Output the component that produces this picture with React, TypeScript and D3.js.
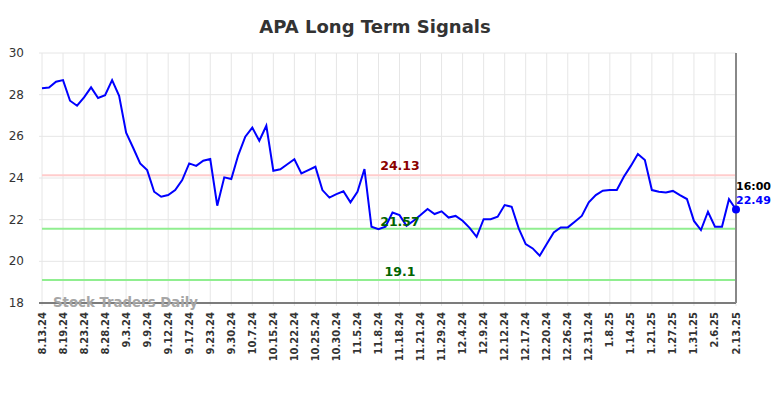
import React from "react";
import * as d3 from "d3";

const prices: number[] = [
  28.31, 28.34, 28.62, 28.7, 27.71, 27.47, 27.87, 28.35, 27.84, 27.97,
  28.7, 27.94, 26.18, 25.45, 24.7, 24.38, 23.34, 23.1, 23.18, 23.42,
  23.9, 24.7, 24.58, 24.83, 24.91, 22.67, 24.03, 23.95, 25.1, 25.98,
  26.42, 25.79, 26.51, 24.35, 24.42, 24.66, 24.9, 24.22, 24.38, 24.54,
  23.42, 23.06, 23.23, 23.36, 22.83, 23.34, 24.43, 21.66, 21.54, 21.66,
  22.34, 22.22, 21.7, 21.95, 22.22, 22.51, 22.27, 22.4, 22.1, 22.18,
  21.95, 21.61, 21.18, 22.02, 22.02, 22.14, 22.7, 22.62, 21.58, 20.83,
  20.62, 20.27, 20.83, 21.39, 21.63, 21.63, 21.9, 22.18, 22.83, 23.18,
  23.39, 23.42, 23.42, 24.06, 24.58, 25.15, 24.86, 23.42, 23.34, 23.31,
  23.38, 23.18, 22.99, 21.94, 21.5, 22.38, 21.66, 21.66, 22.98, 22.49,
];

const tickLabels: string[] = [
  "8.13.24", "8.19.24", "8.23.24", "8.28.24", "9.3.24", "9.9.24", "9.12.24",
  "9.17.24", "9.23.24", "9.30.24", "10.7.24", "10.15.24", "10.22.24",
  "10.25.24", "10.30.24", "11.5.24", "11.8.24", "11.18.24", "11.21.24",
  "11.29.24", "12.4.24", "12.9.24", "12.12.24", "12.17.24", "12.20.24",
  "12.26.24", "12.31.24", "1.8.25", "1.14.25", "1.21.25", "1.27.25",
  "1.31.25", "2.6.25", "2.13.25",
];
const tickIndices: number[] = [
  0, 3, 6, 9, 12, 15, 18, 21, 24, 27, 30, 33, 36, 39, 42, 45, 48, 51, 54, 57,
  60, 63, 66, 69, 72, 75, 78, 81, 84, 87, 90, 93, 96, 99,
];
const yTicks: number[] = [18, 20, 22, 24, 26, 28, 30];

const resistance = 24.13;
const supports: number[] = [21.57, 19.1];
const lastTime = "16:00";

const W = 784;
const H = 398;
const left = 42;
const right = 736;
const top = 53;
const bottom = 303;
const FONT = "'DejaVu Sans', sans-serif";

export default function App() {
  const x = d3.scaleLinear().domain([0, prices.length - 1]).range([left, right]);
  const y = d3.scaleLinear().domain([18, 30]).range([bottom, top]);
  const line = d3
    .line<number>()
    .x((_, i) => x(i))
    .y((d) => y(d));
  const lastIdx = prices.length - 1;
  const last = prices[lastIdx];
  const labelX = 400;

  return (
    <svg
      width={W}
      height={H}
      style={{ position: "absolute", left: 0, top: 0, fontFamily: FONT }}
    >
      <rect x={0} y={0} width={W} height={H} fill="#fff" />
      <text
        x={375}
        y={33}
        textAnchor="middle"
        fontSize={18}
        fontWeight="bold"
        fill="#333"
      >
        APA Long Term Signals
      </text>

      {yTicks.map((t) => (
        <g key={"y" + t}>
          <line x1={39} x2={right} y1={y(t)} y2={y(t)} stroke="#e6e6e6" strokeWidth={1} />
          <text
            x={24}
            y={y(t)}
            textAnchor="end"
            dominantBaseline="central"
            fontSize={12}
            fill="#333"
          >
            {t}
          </text>
        </g>
      ))}

      {tickIndices.map((ti, k) => (
        <g key={"x" + k}>
          <line x1={x(ti)} x2={x(ti)} y1={top} y2={bottom + 3} stroke="#e6e6e6" strokeWidth={1} />
          <text
            transform={`translate(${x(ti) + 3.5},${312}) rotate(-90)`}
            textAnchor="end"
            fontSize={10}
            fontWeight="bold"
            fill="#333"
          >
            {tickLabels[k]}
          </text>
        </g>
      ))}

      <line x1={left} x2={right} y1={y(resistance)} y2={y(resistance)} stroke="#ffcccc" strokeWidth={2} />
      {supports.map((s) => (
        <line key={"s" + s} x1={left} x2={right} y1={y(s)} y2={y(s)} stroke="#90ee90" strokeWidth={2} />
      ))}

      <line x1={39} x2={right} y1={bottom} y2={bottom} stroke="#555" strokeWidth={1.5} />
      <line x1={right} x2={right} y1={top} y2={bottom} stroke="#888" strokeWidth={2} />

      <text x={53} y={306.5} fontSize={13.3} fontWeight="bold" fill="#a6a6a6">
        Stock Traders Daily
      </text>

      <path d={line(prices) ?? ""} fill="none" stroke="#0000ff" strokeWidth={2} />

      <text x={labelX} y={y(resistance) - 5.5} textAnchor="middle" fontSize={12.5} fontWeight="bold" fill="#8b0000">
        {resistance.toFixed(2)}
      </text>
      <text x={labelX} y={y(supports[0]) - 3} textAnchor="middle" fontSize={12.5} fontWeight="bold" fill="#006400">
        {supports[0].toFixed(2)}
      </text>
      <text x={labelX} y={y(supports[1]) - 4} textAnchor="middle" fontSize={12.5} fontWeight="bold" fill="#006400">
        {String(supports[1])}
      </text>

      <circle cx={x(lastIdx)} cy={y(last)} r={4} fill="#0000ff" />
      <text x={right} y={189.5} fontSize={11} fontWeight="bold" fill="#000">
        {lastTime}
      </text>
      <text x={right} y={203.5} fontSize={11} fontWeight="bold" fill="#0000ff">
        {last.toFixed(2)}
      </text>
    </svg>
  );
}
